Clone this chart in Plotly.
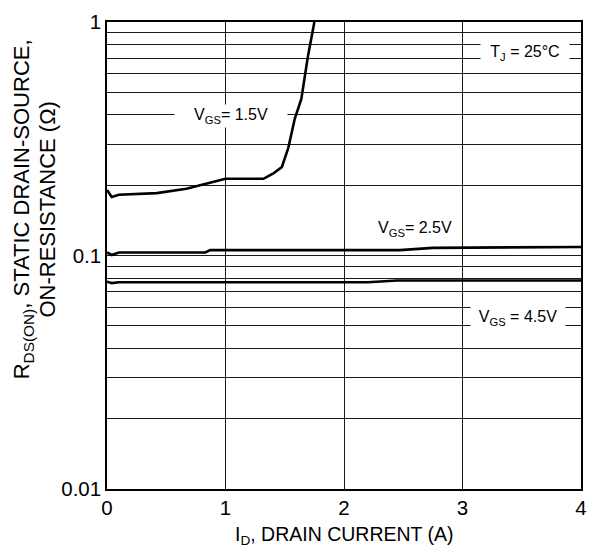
import math
import plotly.graph_objects as go

# ---- data ----
id_15 = [0.0, 0.04, 0.1, 0.28, 0.42, 0.67, 0.83, 0.9, 1.0, 1.32, 1.4, 1.475, 1.53, 1.585, 1.64, 1.695, 1.75]
r_15 = [0.191, 0.178, 0.182, 0.183, 0.185, 0.193, 0.203, 0.207, 0.213, 0.213, 0.224, 0.239, 0.289, 0.386, 0.468, 0.71, 1.0]

id_25 = [0.0, 0.04, 0.1, 0.83, 0.87, 2.47, 2.75, 4.0]
r_25 = [0.1031, 0.1005, 0.103, 0.103, 0.1054, 0.1054, 0.1078, 0.1088]

id_45 = [0.0, 0.04, 0.1, 2.2, 2.45, 4.0]
r_45 = [0.0772, 0.0762, 0.0768, 0.0768, 0.0782, 0.0782]

x_ticks = [0, 1, 2, 3, 4]
y_grid = [0.01, 0.02, 0.03, 0.04, 0.05, 0.06, 0.07, 0.08, 0.09,
          0.1, 0.2, 0.3, 0.4, 0.5, 0.6, 0.7, 0.8, 0.9, 1]
y_labels = {0.01: "0.01", 0.1: "0.1", 1: "1"}
y_text = [y_labels.get(v, "") for v in y_grid]

# curve labels: (I_D, R) positions and texts
label_texts = ["V<sub>GS</sub>= 1.5V", "V<sub>GS</sub>= 2.5V", "V<sub>GS</sub> = 4.5V", "T<sub>J</sub> = 25°C"]
label_x = [1.05, 2.6, 3.47, 3.53]
label_r = [0.397, 0.130, 0.0538, 0.735]

FONT = "Liberation Sans, Arial, sans-serif"

fig = go.Figure()
for xs, ys in [(id_15, r_15), (id_25, r_25), (id_45, r_45)]:
    fig.add_trace(go.Scatter(x=xs, y=ys, mode="lines",
                             line=dict(color="black", width=2.6),
                             showlegend=False, hoverinfo="skip"))

ann_font = dict(family=FONT, size=16, color="black")
box_w = [112, 90, 94, 88]
box_h = [22, 22, 30, 26]
for t, xv, rv, w, h in zip(label_texts, label_x, label_r, box_w, box_h):
    fig.add_annotation(xref="x", yref="y", x=xv, y=math.log10(rv), text=t,
                       showarrow=False, font=ann_font, bgcolor="white",
                       width=w, height=h, borderpad=0,
                       xanchor="center", yanchor="middle")

fig.add_annotation(xref="paper", yref="paper", x=0.5, y=-0.1,
                   text="I<sub>D</sub>, DRAIN CURRENT (A)", showarrow=False,
                   font=dict(family=FONT, size=19.5, color="black"),
                   xanchor="center", yanchor="middle")
ytitle_font = dict(family=FONT, size=22, color="black")
fig.add_annotation(xref="paper", yref="paper", x=-0.178, y=0.598,
                   text="R<sub>DS(ON)</sub>, STATIC DRAIN-SOURCE,", showarrow=False,
                   font=ytitle_font, textangle=-90, xanchor="center", yanchor="middle")
fig.add_annotation(xref="paper", yref="paper", x=-0.125, y=0.6,
                   text="ON-RESISTANCE (Ω)", showarrow=False,
                   font=ytitle_font, textangle=-90, xanchor="center", yanchor="middle")

tick_font = dict(family=FONT, size=20.5, color="black")
fig.update_layout(
    width=597, height=552,
    margin=dict(l=107, r=10, t=11, b=63),
    paper_bgcolor="white", plot_bgcolor="white",
    font=dict(family=FONT, size=18, color="black"),
    xaxis=dict(range=[0, 4], tickvals=x_ticks, ticktext=[str(v) for v in x_ticks],
               showgrid=True, gridcolor="#1a1a1a", gridwidth=1,
               showline=True, linecolor="black", linewidth=1.5, mirror=True,
               zeroline=False, ticks="", tickfont=tick_font),
    yaxis=dict(type="log", range=[-2, 0], tickvals=y_grid, ticktext=y_text,
               showgrid=True, gridcolor="#1a1a1a", gridwidth=1,
               showline=True, linecolor="black", linewidth=1.5, mirror=True,
               zeroline=False, ticks="", tickfont=tick_font),
)

fig.write_html("out.html")
